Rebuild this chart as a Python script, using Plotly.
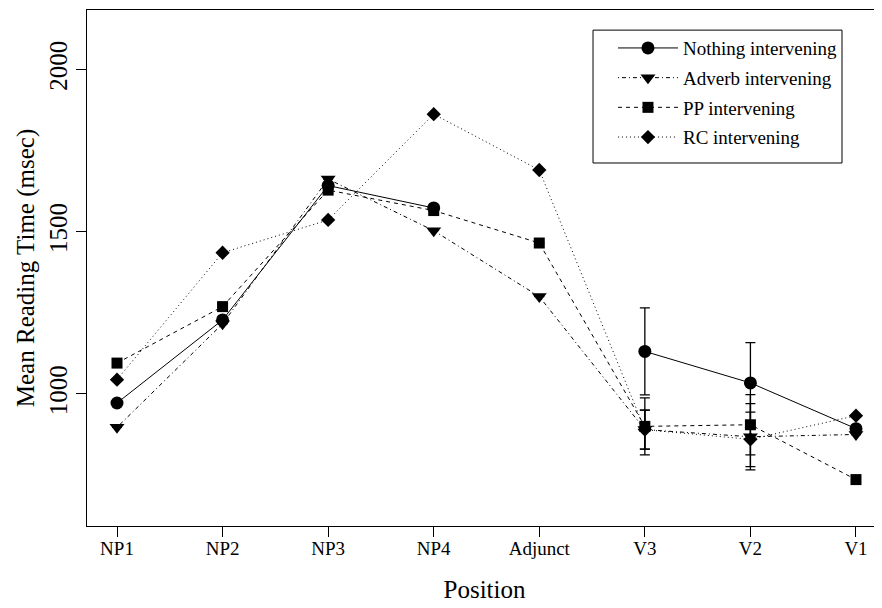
import plotly.graph_objects as go

positions = ["NP1", "NP2", "NP3", "NP4", "Adjunct", "V3", "V2", "V1"]

nothing = [972, 1228, 1642, 1573, None, 1131, 1034, 893]
adverb = [897, 1216, 1662, 1503, 1300, 890, 868, 875]
pp = [1095, 1269, 1628, 1565, 1465, 900, 905, 736]
rc = [1044, 1435, 1536, 1862, 1690, 890, 860, 933]

nothing_err = [0, 0, 0, 0, 0, 134, 124, 0]
adverb_err = [0, 0, 0, 0, 0, 60, 102, 0]
pp_err = [0, 0, 0, 0, 0, 88, 93, 0]
rc_err = [0, 0, 0, 0, 0, 60, 84, 0]

y_ticks = [1000, 1500, 2000]

series = [
    ("Nothing intervening", nothing, nothing_err, "solid", "circle", 13),
    ("Adverb intervening", adverb, adverb_err, "1px,3px,4px,3px", "triangle-down", 13),
    ("PP intervening", pp, pp_err, "4px,4px", "square", 11),
    ("RC intervening", rc, rc_err, "1px,3px", "diamond", 11),
]

fig = go.Figure()
for i, (name, ys, err, dash, sym, size) in enumerate(series):
    fig.add_trace(go.Scatter(
        x=positions, y=ys, name=name, mode="lines+markers",
        line=dict(color="black", width=1, dash=dash),
        marker=dict(symbol=sym, size=size, color="black"),
        error_y=dict(type="data", array=err, visible=True, color="black",
                     thickness=1.3, width=5),
        connectgaps=False, legendgroup="g%d" % i,
    ))

font = dict(family="Liberation Serif", size=19, color="black")
big = dict(family="Liberation Serif", size=25, color="black")

fig.update_layout(
    width=874, height=600,
    margin=dict(l=79, r=0, t=2, b=82),
    paper_bgcolor="white", plot_bgcolor="white",
    font=font,
    xaxis=dict(
        type="category", categoryorder="array", categoryarray=positions,
        range=[-0.2842, 7.2464],
        showline=True, linecolor="black", linewidth=1, mirror=True,
        ticks="outside", ticklen=10, tickcolor="black", tickwidth=1,
        ticklabelstandoff=-5, tickfont=font,
        showgrid=False, zeroline=False,
        title=dict(text="Position", font=big, standoff=22),
    ),
    yaxis=dict(
        range=[593, 2183], tickvals=y_ticks, ticktext=[str(v) for v in y_ticks],
        tickangle=-90, ticklabelstandoff=-1, tickfont=big,
        showline=True, linecolor="black", linewidth=1, mirror=False,
        ticks="outside", ticklen=10, tickcolor="black", tickwidth=1,
        showgrid=False, zeroline=False,
        title=dict(text="Mean Reading Time (msec)", font=big, standoff=3),
    ),
    showlegend=True,
    legend=dict(
        x=0.6616, y=0.963, xanchor="left", yanchor="top",
        bgcolor="rgba(0,0,0,0)", borderwidth=0,
        font=font, itemwidth=60, traceorder="grouped", tracegroupgap=2,
    ),
    shapes=[dict(type="rect", xref="paper", yref="paper",
                 x0=0.6365, x1=0.9497, y0=0.7035, y1=0.961,
                 line=dict(color="black", width=1), fillcolor="rgba(0,0,0,0)")],
)

fig.write_html("out.html")
